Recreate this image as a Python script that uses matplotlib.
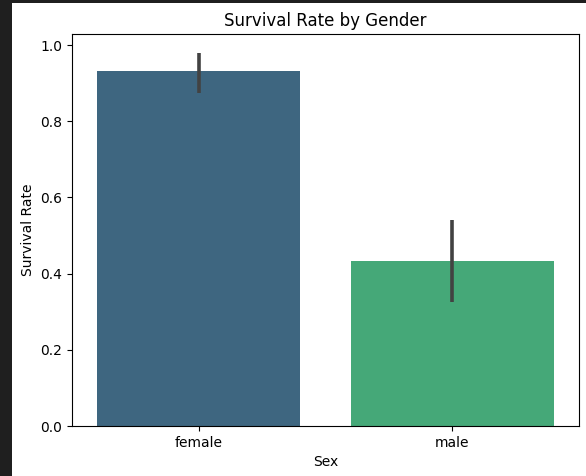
import matplotlib
matplotlib.use('Agg')
import matplotlib.pyplot as plt
from matplotlib.patches import Rectangle

# 数据
sexes = ['female', 'male']
survival = [0.932, 0.433]
ci_low = [0.874, 0.325]
ci_high = [0.980, 0.541]
bar_colors = ['#3e6680', '#45a878']

fig = plt.figure(figsize=(5.86, 4.76), dpi=100, facecolor='#1f1f1f')
# 白色画布区域（截图边缘为深色）
fig.patches.append(Rectangle((12 / 586, 0), 1, 1 - 3 / 476, transform=fig.transFigure,
                             facecolor='white', edgecolor='none', zorder=-10))

ax = fig.add_axes([72 / 586, 1 - 426 / 476, (579 - 72) / 586, (426 - 34) / 476])
x = list(range(len(sexes)))
ax.bar(x, survival, width=0.8, color=bar_colors, zorder=2)
for i in x:
    ax.plot([i, i], [ci_low[i], ci_high[i]], color='#424242', lw=2.6,
            solid_capstyle='butt', zorder=3)

ax.set_xticks(x)
ax.set_xticklabels(sexes)
ax.set_xlim(-0.5, 1.5)
ax.set_ylim(0, 1.029)
ax.set_xlabel('Sex')
ax.set_ylabel('Survival Rate')
ax.set_title('Survival Rate by Gender')

fig.savefig('out.png', dpi=100, facecolor=fig.get_facecolor())
